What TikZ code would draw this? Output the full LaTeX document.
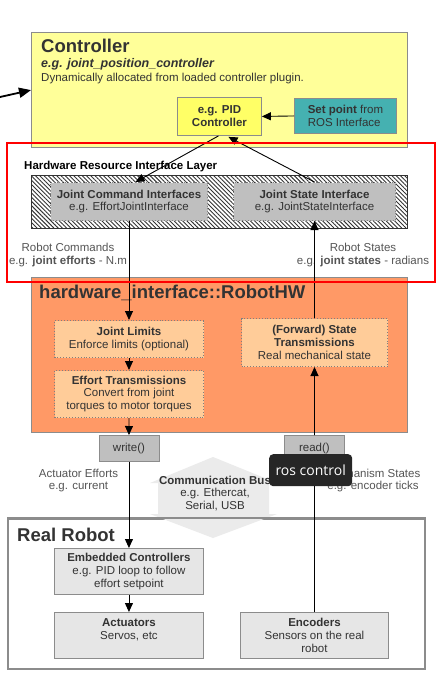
\documentclass[tikz,border=0pt]{standalone}
\usepackage{fontspec}
\setmainfont{Liberation Sans}
\newfontfamily\tipfont{Open Sans}
\usetikzlibrary{arrows.meta,patterns.meta,calc}
\definecolor{ctrlyellow}{HTML}{FFFF99}
\definecolor{pidyellow}{HTML}{FFFF66}
\definecolor{tealbox}{HTML}{45B1B1}
\definecolor{bordergray}{HTML}{8C8C8C}
\definecolor{ifgray}{HTML}{BFBFBF}
\definecolor{hworange}{HTML}{FF9966}
\definecolor{peach}{HTML}{FFCC99}
\definecolor{lightbox}{HTML}{E6E6E6}
\definecolor{busgray}{HTML}{EBEBEB}
\definecolor{txtdark}{HTML}{333333}
\definecolor{txtgray}{HTML}{555555}
\definecolor{tipbg}{HTML}{262626}
\newcommand\bodyfnt{\fontsize{11.5}{12.8}\selectfont}
\newcommand\titlefnt{\fontsize{18.5}{22}\selectfont\bfseries}
\begin{document}
\begin{tikzpicture}[x=1pt,y=-1pt,
  box/.style={draw=bordergray, line width=0.9pt, anchor=north west, inner sep=0pt,
              align=center, text=txtdark, font=\bodyfnt},
  dotbox/.style={box, draw=gray, dotted, line width=1pt},
  caplbl/.style={anchor=north, inner sep=0pt, align=center, text=txtgray, font=\bodyfnt},
  ttl/.style={anchor=base west, inner sep=0pt, text=txtdark, font=\titlefnt},
  conn/.style={draw=black, line width=0.9pt, -{Triangle[length=9pt,width=8pt]}},
]
\useasboundingbox (0,0) rectangle (441,679);
\fill[white] (0,0) rectangle (441,679);

% Controller
\node[box, fill=ctrlyellow, line width=1.2pt, minimum width=376pt, minimum height=115pt] (ctrl) at (31,32) {};
\node[ttl] (ctrltitle) at (41,53) {Controller};
\node[anchor=base west, inner sep=0pt, text=txtdark, font=\fontsize{12.5}{14}\selectfont\bfseries\itshape] (ctrlsub) at (41,68) {e.g. joint\_position\_controller};
\node[anchor=base west, inner sep=0pt, text=txtdark, font=\bodyfnt] (ctrldesc) at (41,82) {Dynamically allocated from loaded controller plugin.};
\node[box, fill=pidyellow, minimum width=84pt, minimum height=38pt, font=\bodyfnt\bfseries] (pid) at (177,97) {e.g. PID\\Controller};
\node[box, fill=tealbox, minimum width=102pt, minimum height=35pt, align=left] (setp) at (294,98) {\textbf{Set point} from\\ROS Interface};
\coordinate (lstart) at (0,97);
\draw[conn, line width=1.8pt, -{Triangle[length=12pt,width=10pt]}] (lstart) -- (ctrl.west);
\draw[conn] (setp.west) -- (pid.east);

% Hardware resource interface layer
\node[anchor=base west, inner sep=0pt, text=black, font=\bodyfnt\bfseries] (hrlabel) at (24,169) {Hardware Resource Interface Layer};
\node[box, draw=black!80, line width=1.2pt, pattern={Lines[angle=-45,distance=3pt,line width=0.9pt]}, pattern color=black!80, minimum width=376pt, minimum height=53pt] (hatch) at (31,175) {};
\node[dotbox, fill=ifgray, minimum width=157pt, minimum height=38pt] (jci) at (50,182) {\textbf{Joint Command Interfaces}\\e.g. EffortJointInterface};
\node[dotbox, fill=ifgray, minimum width=162pt, minimum height=38pt] (jsi) at (233,182) {\textbf{Joint State Interface}\\e.g. JointStateInterface};
\draw[conn] ($(pid.south)+(-1,0)$) -- ($(jci.north)+(6.5,0)$);
\draw[conn] (jsi.north) -- ($(pid.south)+(9,1)$);
\node[caplbl] (cmdlbl) at (68,243) {Robot Commands\\e.g. \textbf{joint efforts} - N.m};
\node[caplbl] (statelbl) at (363,243) {Robot States\\e.g. \textbf{joint states} - radians};

% RobotHW
\node[box, fill=hworange, line width=1.2pt, minimum width=376pt, minimum height=155pt] (hw) at (31,277) {};
\node[ttl] (hwtitle) at (39,298) {hardware\_interface::RobotHW};
\node[dotbox, fill=peach, minimum width=149pt, minimum height=37pt] (jl) at (54,320) {\textbf{Joint Limits}\\Enforce limits (optional)};
\node[dotbox, fill=peach, minimum width=149pt, minimum height=47pt] (et) at (54,370) {\textbf{Effort Transmissions}\\Convert from joint\\torques to motor torques};
\node[dotbox, fill=peach, minimum width=146pt, minimum height=48pt] (fst) at (241,318) {\textbf{(Forward) State}\\\textbf{Transmissions}\\Real mechanical state};
\node[box, fill=ifgray, minimum width=60pt, minimum height=26pt] (write) at (98.5,435) {write()};
\node[box, fill=ifgray, minimum width=60pt, minimum height=26pt] (read) at (284,435) {read()};

% labels between
\node[caplbl] (actlbl) at (78.5,468.5) {Actuator Efforts\\e.g. current};
\node[caplbl] (mechlbl) at (373,468.5) {Mechanism States\\e.g. encoder ticks};

% Real robot
\node[box, fill=white, draw=bordergray, line width=1.6pt, minimum width=417pt, minimum height=150pt] (real) at (7,518) {};
\fill[busgray] (213,457) -- (277,483) -- (269,483) -- (269,514) -- (277,514) -- (213,538)
  -- (150,514) -- (158,514) -- (158,483) -- (150,483) -- cycle;
\draw[bordergray, line width=1.6pt] (real.north west) -- (real.north east);
\node[caplbl, text=txtdark] (buslbl) at (215,475.5) {\textbf{Communication Bus}\\e.g. Ethercat,\\Serial, USB};
\node[ttl] (realtitle) at (17,541) {Real Robot};
\node[box, fill=lightbox, minimum width=149pt, minimum height=46pt] (emb) at (54,548) {\textbf{Embedded Controllers}\\e.g. PID loop to follow\\effort setpoint};
\node[box, fill=lightbox, minimum width=149pt, minimum height=46pt] (act) at (54,612) {\textbf{Actuators}\\Servos, etc\\~};
\node[box, fill=lightbox, minimum width=148pt, minimum height=46pt] (enc) at (240,612) {\textbf{Encoders}\\Sensors on the real\\robot};

% vertical connectors
\draw[conn] (jci.south) -- (jl.north);
\draw[conn] (jl.south) -- (et.north);
\draw[conn] (et.south) -- (write.north);
\draw[conn] (write.south) -- (emb.north);
\draw[conn] (emb.south) -- (act.north);
\draw[conn] (enc.north) -- (read.south);
\draw[conn] (read.north) -- (fst.south);
\draw[conn] (fst.north) -- (jsi.south);

% red frame
\node[draw=red, line width=2pt, anchor=north west, inner sep=0pt, minimum width=428pt, minimum height=139pt] (redframe) at (6,142) {};

% tooltip
\node[anchor=north west, fill=tipbg, rounded corners=4pt, inner sep=0pt, minimum width=83pt, minimum height=32pt, text=white, font=\tipfont\fontsize{14}{16}\selectfont] (tip) at (269,454) {ros control};
\end{tikzpicture}
\end{document}
